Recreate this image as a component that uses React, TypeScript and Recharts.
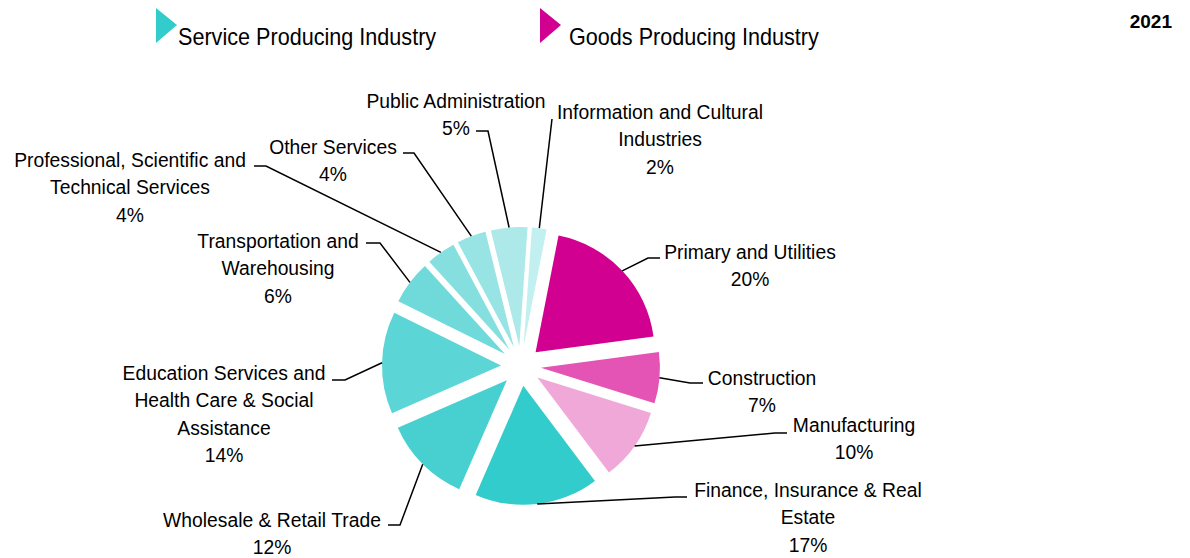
import React from "react";
import { PieChart, Pie, Cell, Sector, Legend, Tooltip } from "recharts";

// slices clockwise from the top
const industries = [
  "Information and Cultural Industries",
  "Primary and Utilities",
  "Construction",
  "Manufacturing",
  "Finance, Insurance & Real Estate",
  "Wholesale & Retail Trade",
  "Education Services and Health Care & Social Assistance",
  "Transportation and Warehousing",
  "Professional, Scientific and Technical Services",
  "Other Services",
  "Public Administration",
];
const shares = [2, 20, 7, 10, 17, 12, 14, 6, 4, 4, 5];
const labelLines = [
  ["Information and Cultural", "Industries"],
  ["Primary and Utilities"],
  ["Construction"],
  ["Manufacturing"],
  ["Finance, Insurance & Real", "Estate"],
  ["Wholesale & Retail Trade"],
  ["Education Services and", "Health Care & Social", "Assistance"],
  ["Transportation and", "Warehousing"],
  ["Professional, Scientific and", "Technical Services"],
  ["Other Services"],
  ["Public Administration"],
];
const legendGroups = ["Service Producing Industry", "Goods Producing Industry"];
const yearLabel = "2021";

const colors = [
  "#c2efef", "#d10090", "#e354b4", "#f0a8d8", "#33cccc", "#48d0d0",
  "#5bd5d5", "#70dada", "#85dfdf", "#98e4e4", "#ade9e9",
];
const legendColors = ["#33cccc", "#d10090"];

// label text centre x, first baseline y, elbow point, end of the short horizontal
const labelPos = [
  { tx: 660, ty: 119, ex: 552, ey: 119, hx: 552 },
  { tx: 750, ty: 259, ex: 648, ey: 258, hx: 660 },
  { tx: 762, ty: 385, ex: 690, ey: 383, hx: 703 },
  { tx: 854, ty: 432, ex: 775, ey: 433, hx: 787 },
  { tx: 808, ty: 497, ex: 675, ey: 497, hx: 687 },
  { tx: 272, ty: 527, ex: 400, ey: 525, hx: 388 },
  { tx: 224, ty: 380, ex: 345, ey: 380, hx: 332 },
  { tx: 278, ty: 248, ex: 380, ey: 243, hx: 366 },
  { tx: 130, ty: 167, ex: 266, ey: 166, hx: 254 },
  { tx: 333, ty: 154, ex: 414, ey: 153, hx: 403 },
  { tx: 456, ty: 108, ex: 488, ey: 131, hx: 476 },
];

const FONT = '"Liberation Sans", Arial, sans-serif';
const EXPLODE = 20;
const RAD = Math.PI / 180;

const data = industries.map((name, i) => ({ name, value: shares[i] }));

const explodedSlice = (p: any) => {
  const dx = EXPLODE * Math.cos(-p.midAngle * RAD);
  const dy = EXPLODE * Math.sin(-p.midAngle * RAD);
  return (
    <Sector
      cx={p.cx + dx}
      cy={p.cy + dy}
      innerRadius={p.innerRadius}
      outerRadius={p.outerRadius}
      startAngle={p.startAngle}
      endAngle={p.endAngle}
      fill={p.fill}
      stroke="none"
    />
  );
};

const renderLabel = (p: any) => {
  const pos = labelPos[p.index];
  const r = p.outerRadius + EXPLODE;
  const sx = p.cx + r * Math.cos(-p.midAngle * RAD);
  const sy = p.cy + r * Math.sin(-p.midAngle * RAD);
  const lines = [...labelLines[p.index], `${shares[p.index]}%`];
  return (
    <g key={`lbl-${p.index}`}>
      <polyline
        points={`${sx},${sy} ${pos.ex},${pos.ey} ${pos.hx},${pos.ey}`}
        fill="none"
        stroke="#000"
        strokeWidth={1.5}
      />
      <text
        transform={`translate(${pos.tx},${pos.ty}) scale(0.92,1)`}
        textAnchor="middle"
        fontSize={21}
        fontFamily={FONT}
        fill="#000"
      >
        {lines.map((t, i) => (
          <tspan key={i} x={0} dy={i === 0 ? 0 : 27.5}>
            {t}
          </tspan>
        ))}
      </text>
    </g>
  );
};

const renderLegend = () => (
  <svg width={1190} height={60} style={{ display: "block" }}>
    <polygon points="156,8 177,25 156,43" fill={legendColors[0]} />
    <text transform="translate(178,45) scale(0.92,1)" fontSize={23.5} fontFamily={FONT} fill="#000">
      {legendGroups[0]}
    </text>
    <polygon points="540,8 561,25 540,43" fill={legendColors[1]} />
    <text transform="translate(569,45) scale(0.92,1)" fontSize={23.5} fontFamily={FONT} fill="#000">
      {legendGroups[1]}
    </text>
    <text x={1172} y={28} textAnchor="end" fontSize={19} fontWeight="bold" fontFamily={FONT} fill="#000">
      {yearLabel}
    </text>
  </svg>
);

export default function App() {
  return (
    <div style={{ position: "absolute", left: 0, top: 0, width: 1190, height: 558, background: "#fff" }}>
      <PieChart width={1190} height={558} margin={{ top: 0, right: 0, bottom: 0, left: 0 }}>
        <Pie
          data={data}
          dataKey="value"
          nameKey="name"
          cx={521}
          cy={366}
          outerRadius={119}
          startAngle={86}
          endAngle={-274}
          stroke="none"
          shape={explodedSlice}
          activeShape={explodedSlice}
          inactiveShape={explodedSlice}
          label={renderLabel}
          labelLine={false}
          isAnimationActive={false}
        >
          {data.map((d, i) => (
            <Cell key={d.name} fill={colors[i]} />
          ))}
        </Pie>
        <Tooltip content={() => null} defaultIndex={0} cursor={false} />
        <Legend
          verticalAlign="bottom"
          content={renderLegend}
          wrapperStyle={{ top: 0, left: 0, bottom: "auto", width: 1190 }}
        />
      </PieChart>
    </div>
  );
}
